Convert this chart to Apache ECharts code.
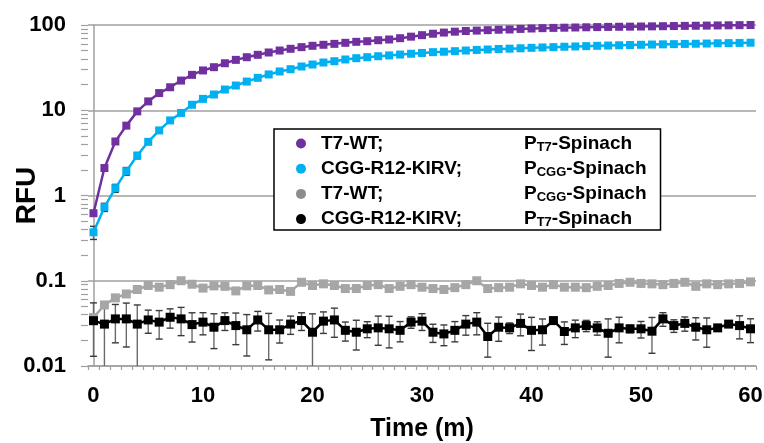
<!DOCTYPE html>
<html>
<head>
<meta charset="utf-8">
<script src="https://cdn.jsdelivr.net/npm/echarts@6/dist/echarts.min.js"></script>
<style>html,body{margin:0;padding:0;background:#fff;}#chart{width:764px;height:443px;}</style>
</head>
<body>
<div id="chart"></div>
<script>
// ---- data ----
var times = [0,1,2,3,4,5,6,7,8,9,10,11,12,13,14,15,16,17,18,19,20,21,22,23,24,25,26,27,28,29,30,31,32,33,34,35,36,37,38,39,40,41,42,43,44,45,46,47,48,49,50,51,52,53,54,55,56,57,58,59,60];
var t7wtPT7 = [0.62,2.1,4.3,6.6,9.7,12.7,15.9,18.6,22.3,26,29.3,32,35.6,39,41.9,44.7,47.6,50.2,52.6,55,57,58.6,60.1,61.8,63.5,64.5,66.3,67.6,70,73,76,79,81.5,83.5,85,86,87,88,88.6,90,91,91.8,92.5,93,93.5,94,94.5,95,95.3,95.6,96,96.4,96.8,97.2,97.6,98,98.4,98.8,99.2,99.6,100];
var cggPCGG = [0.37,0.73,1.22,1.93,2.94,4.26,5.8,7.6,9.3,11.6,13.6,15.3,17.5,19.5,21.7,24,26.3,28.5,30.3,32.6,34.4,36.3,37.6,39.4,40.8,41.9,43,44,45,46,47,48,48.6,49.3,50.2,51,51.6,52.3,52.8,53.3,54,54.5,55,55.6,56,56.5,57,57.4,57.8,58.2,58.6,59,59.3,59.6,60,60.3,60.6,61,61.3,61.6,62];
var cggPCGGErr = [0.065,0.08,0.13,0.2,0.25];
var t7wtPCGG = [0.037,0.052,0.063,0.070,0.079,0.088,0.084,0.090,0.100,0.091,0.082,0.087,0.086,0.076,0.087,0.088,0.078,0.079,0.075,0.096,0.088,0.092,0.088,0.081,0.081,0.088,0.090,0.081,0.086,0.090,0.084,0.081,0.079,0.083,0.090,0.100,0.081,0.083,0.084,0.092,0.088,0.084,0.090,0.084,0.084,0.083,0.086,0.088,0.093,0.096,0.093,0.092,0.090,0.093,0.096,0.086,0.092,0.090,0.092,0.093,0.097];
var cggPT7 = [0.034,0.031,0.0357,0.0357,0.031,0.0347,0.0327,0.0373,0.0357,0.0306,0.0327,0.0285,0.0341,0.0298,0.0266,0.0347,0.0266,0.0266,0.031,0.0341,0.0249,0.0336,0.0347,0.0262,0.0249,0.0273,0.028,0.0273,0.0262,0.0327,0.0336,0.0249,0.0238,0.0262,0.031,0.0327,0.0222,0.0285,0.028,0.0316,0.0262,0.0266,0.0341,0.0254,0.028,0.0298,0.028,0.0242,0.028,0.0273,0.0273,0.0256,0.0357,0.0298,0.0316,0.0285,0.0266,0.028,0.031,0.0298,0.0273];
var cggPT7Err = [0.021,0.024,0.017,0.019,0.021,0.0105,0.012,0.0095,0.013,0.0115,0.0095,0.0125,0.008,0.012,0.0135,0.009,0.0148,0.008,0.0075,0.008,0.016,0.0095,0.013,0.0066,0.0095,0.0058,0.0105,0.011,0.007,0.005,0.0075,0.006,0.0065,0.007,0.008,0.0095,0.0095,0.009,0.004,0.009,0.011,0.009,0.003,0.0075,0.0065,0.0045,0.005,0.0115,0.0093,0.0028,0.006,0.0115,0.0065,0.005,0.006,0.0083,0.01,0.002,0.002,0.009,0.0085];
var xLabelValues = [0,10,20,30,40,50,60];
var yTickValues = [0.01,0.02,0.03,0.04,0.05,0.06,0.07,0.08,0.09,0.1,0.2,0.3,0.4,0.5,0.6,0.7,0.8,0.9,1,2,3,4,5,6,7,8,9,10,20,30,40,50,60,70,80,90,100];
var legendLeft = ['T7-WT;','CGG-R12-KIRV;','T7-WT;','CGG-R12-KIRV;'];
var legendSub = ['T7','CGG','CGG','T7'];
var colors = ['#7030A0','#00B0F0','#A6A6A6','#000000'];
var legendColors = ['#7030A0','#00B0F0','#8C8C8C','#000000'];

// ---- build ----
var xTickValues = [];
for (var i = 0; i <= times.length; i++) xTickValues.push(i - 0.5);
var names = legendLeft.map(function (l, i) { return l + ' P' + legendSub[i] + '-Spinach'; });
var seriesValues = [t7wtPT7, cggPCGG, t7wtPCGG, cggPT7];
var FONT = '"Liberation Sans", Arial, sans-serif';
var YMIN = 0.01;
var AXIS_GRAY = '#A0A0A0';

function pairs(arr) { return arr.map(function (v, i) { return [times[i], v]; }); }
function errData(vals, errs) { return errs.map(function (e, i) { return [times[i], vals[i], e]; }); }

function errRender(params, api) {
  var x = api.value(0), m = api.value(1), e = api.value(2);
  var hi = m + e, lo = m - e;
  var clipped = lo < YMIN * 1.01;
  if (clipped) lo = YMIN;
  var pHi = api.coord([x, hi]), pLo = api.coord([x, lo]);
  var cw = 3.5;
  var children = [
    { type: 'line', shape: { x1: pHi[0], y1: pHi[1], x2: pLo[0], y2: pLo[1] }, style: { stroke: '#6A6A6A', lineWidth: 1.4 } },
    { type: 'line', shape: { x1: pHi[0] - cw, y1: pHi[1], x2: pHi[0] + cw, y2: pHi[1] }, style: { stroke: '#3A3A3A', lineWidth: 1.4 } }
  ];
  if (!clipped) children.push({ type: 'line', shape: { x1: pLo[0] - cw, y1: pLo[1], x2: pLo[0] + cw, y2: pLo[1] }, style: { stroke: '#3A3A3A', lineWidth: 1.4 } });
  return { type: 'group', children: children };
}

var series = [];
series.push({ type: 'custom', name: 'errB', z: 1, silent: true, renderItem: errRender, encode: { x: 0, y: 1 }, data: errData(cggPT7, cggPT7Err), clip: true });
series.push({ type: 'custom', name: 'errC', z: 1, silent: true, renderItem: errRender, encode: { x: 0, y: 1 }, data: errData(cggPCGG, cggPCGGErr), clip: true });
seriesValues.forEach(function (vals, i) {
  series.push({
    type: 'line', name: names[i], z: 3, data: pairs(vals),
    symbol: 'rect', symbolSize: i < 2 ? 8 : 9, showSymbol: true,
    itemStyle: { color: colors[i] }, lineStyle: { color: colors[i], width: 2.5 },
    emphasis: { disabled: true }
  });
});

var rich = {
  a: { fontFamily: FONT, fontWeight: 'bold', fontSize: 19, color: '#000', width: 203, lineHeight: 20 },
  b: { fontFamily: FONT, fontWeight: 'bold', fontSize: 19, color: '#000', lineHeight: 20 },
  s: { fontFamily: FONT, fontWeight: 'bold', fontSize: 13, color: '#000', lineHeight: 10, verticalAlign: 'bottom' }
};

var option = {
  animation: false,
  backgroundColor: '#fff',
  grid: { left: 88, right: 8, top: 25, bottom: 77, outerBoundsMode: 'none', containLabel: false },
  xAxis: {
    type: 'value', min: -0.5, max: 60.5,
    name: 'Time (m)', nameLocation: 'middle', nameGap: 51, nameMoveOverlap: false,
    nameTextStyle: { fontFamily: FONT, fontWeight: 'bold', fontSize: 25, color: '#000' },
    axisLine: { show: true, onZero: false, lineStyle: { color: AXIS_GRAY, width: 1.5 } },
    axisTick: { show: true, length: 4, customValues: xTickValues, lineStyle: { color: AXIS_GRAY, width: 1.2 } },
    axisLabel: { customValues: xLabelValues, fontFamily: FONT, fontWeight: 'bold', fontSize: 22, color: '#000', margin: 19 },
    splitLine: { show: false }
  },
  yAxis: [{
    type: 'log', logBase: 10, min: 0.01, max: 100,
    name: 'RFU', nameLocation: 'middle', nameGap: 47, nameMoveOverlap: false,
    nameTextStyle: { fontFamily: FONT, fontWeight: 'bold', fontSize: 28, color: '#000' },
    axisLine: { show: true, lineStyle: { color: AXIS_GRAY, width: 1.5 } },
    axisTick: { show: false },
    axisLabel: {
      fontFamily: FONT, fontWeight: 'bold', fontSize: 22, color: '#000', margin: 22,
      formatter: function (v) { return v >= 1 ? String(Math.round(v)) : String(+v.toPrecision(1)); }
    },
    splitLine: { show: true, lineStyle: { color: AXIS_GRAY, width: 1.5 } }
  }, {
    type: 'log', logBase: 10, min: 0.01, max: 100, position: 'left', offset: 0,
    axisLine: { show: false },
    axisTick: { show: true, length: 7, customValues: yTickValues, lineStyle: { color: AXIS_GRAY, width: 1.2 } },
    axisLabel: { show: false },
    splitLine: { show: false }
  }],
  legend: {
    orient: 'vertical', left: 274, top: 129,
    padding: [5, 14, 1, 22], itemGap: 5.7,
    itemWidth: 30, itemHeight: 10, icon: 'circle',
    backgroundColor: '#fff', borderColor: '#000', borderWidth: 1.5,
    selectedMode: false,
    data: names.map(function (n, i) { return { name: n, itemStyle: { color: legendColors[i] } }; }),
    formatter: function (name) {
      var i = names.indexOf(name);
      return '{a|' + legendLeft[i] + '}{b|P}{s|' + legendSub[i] + '}{b|-Spinach}';
    },
    textStyle: { rich: rich }
  },
  series: series
};

var chart = echarts.init(document.getElementById('chart'), null, { renderer: 'canvas' });
chart.setOption(option);
</script>
</body>
</html>
